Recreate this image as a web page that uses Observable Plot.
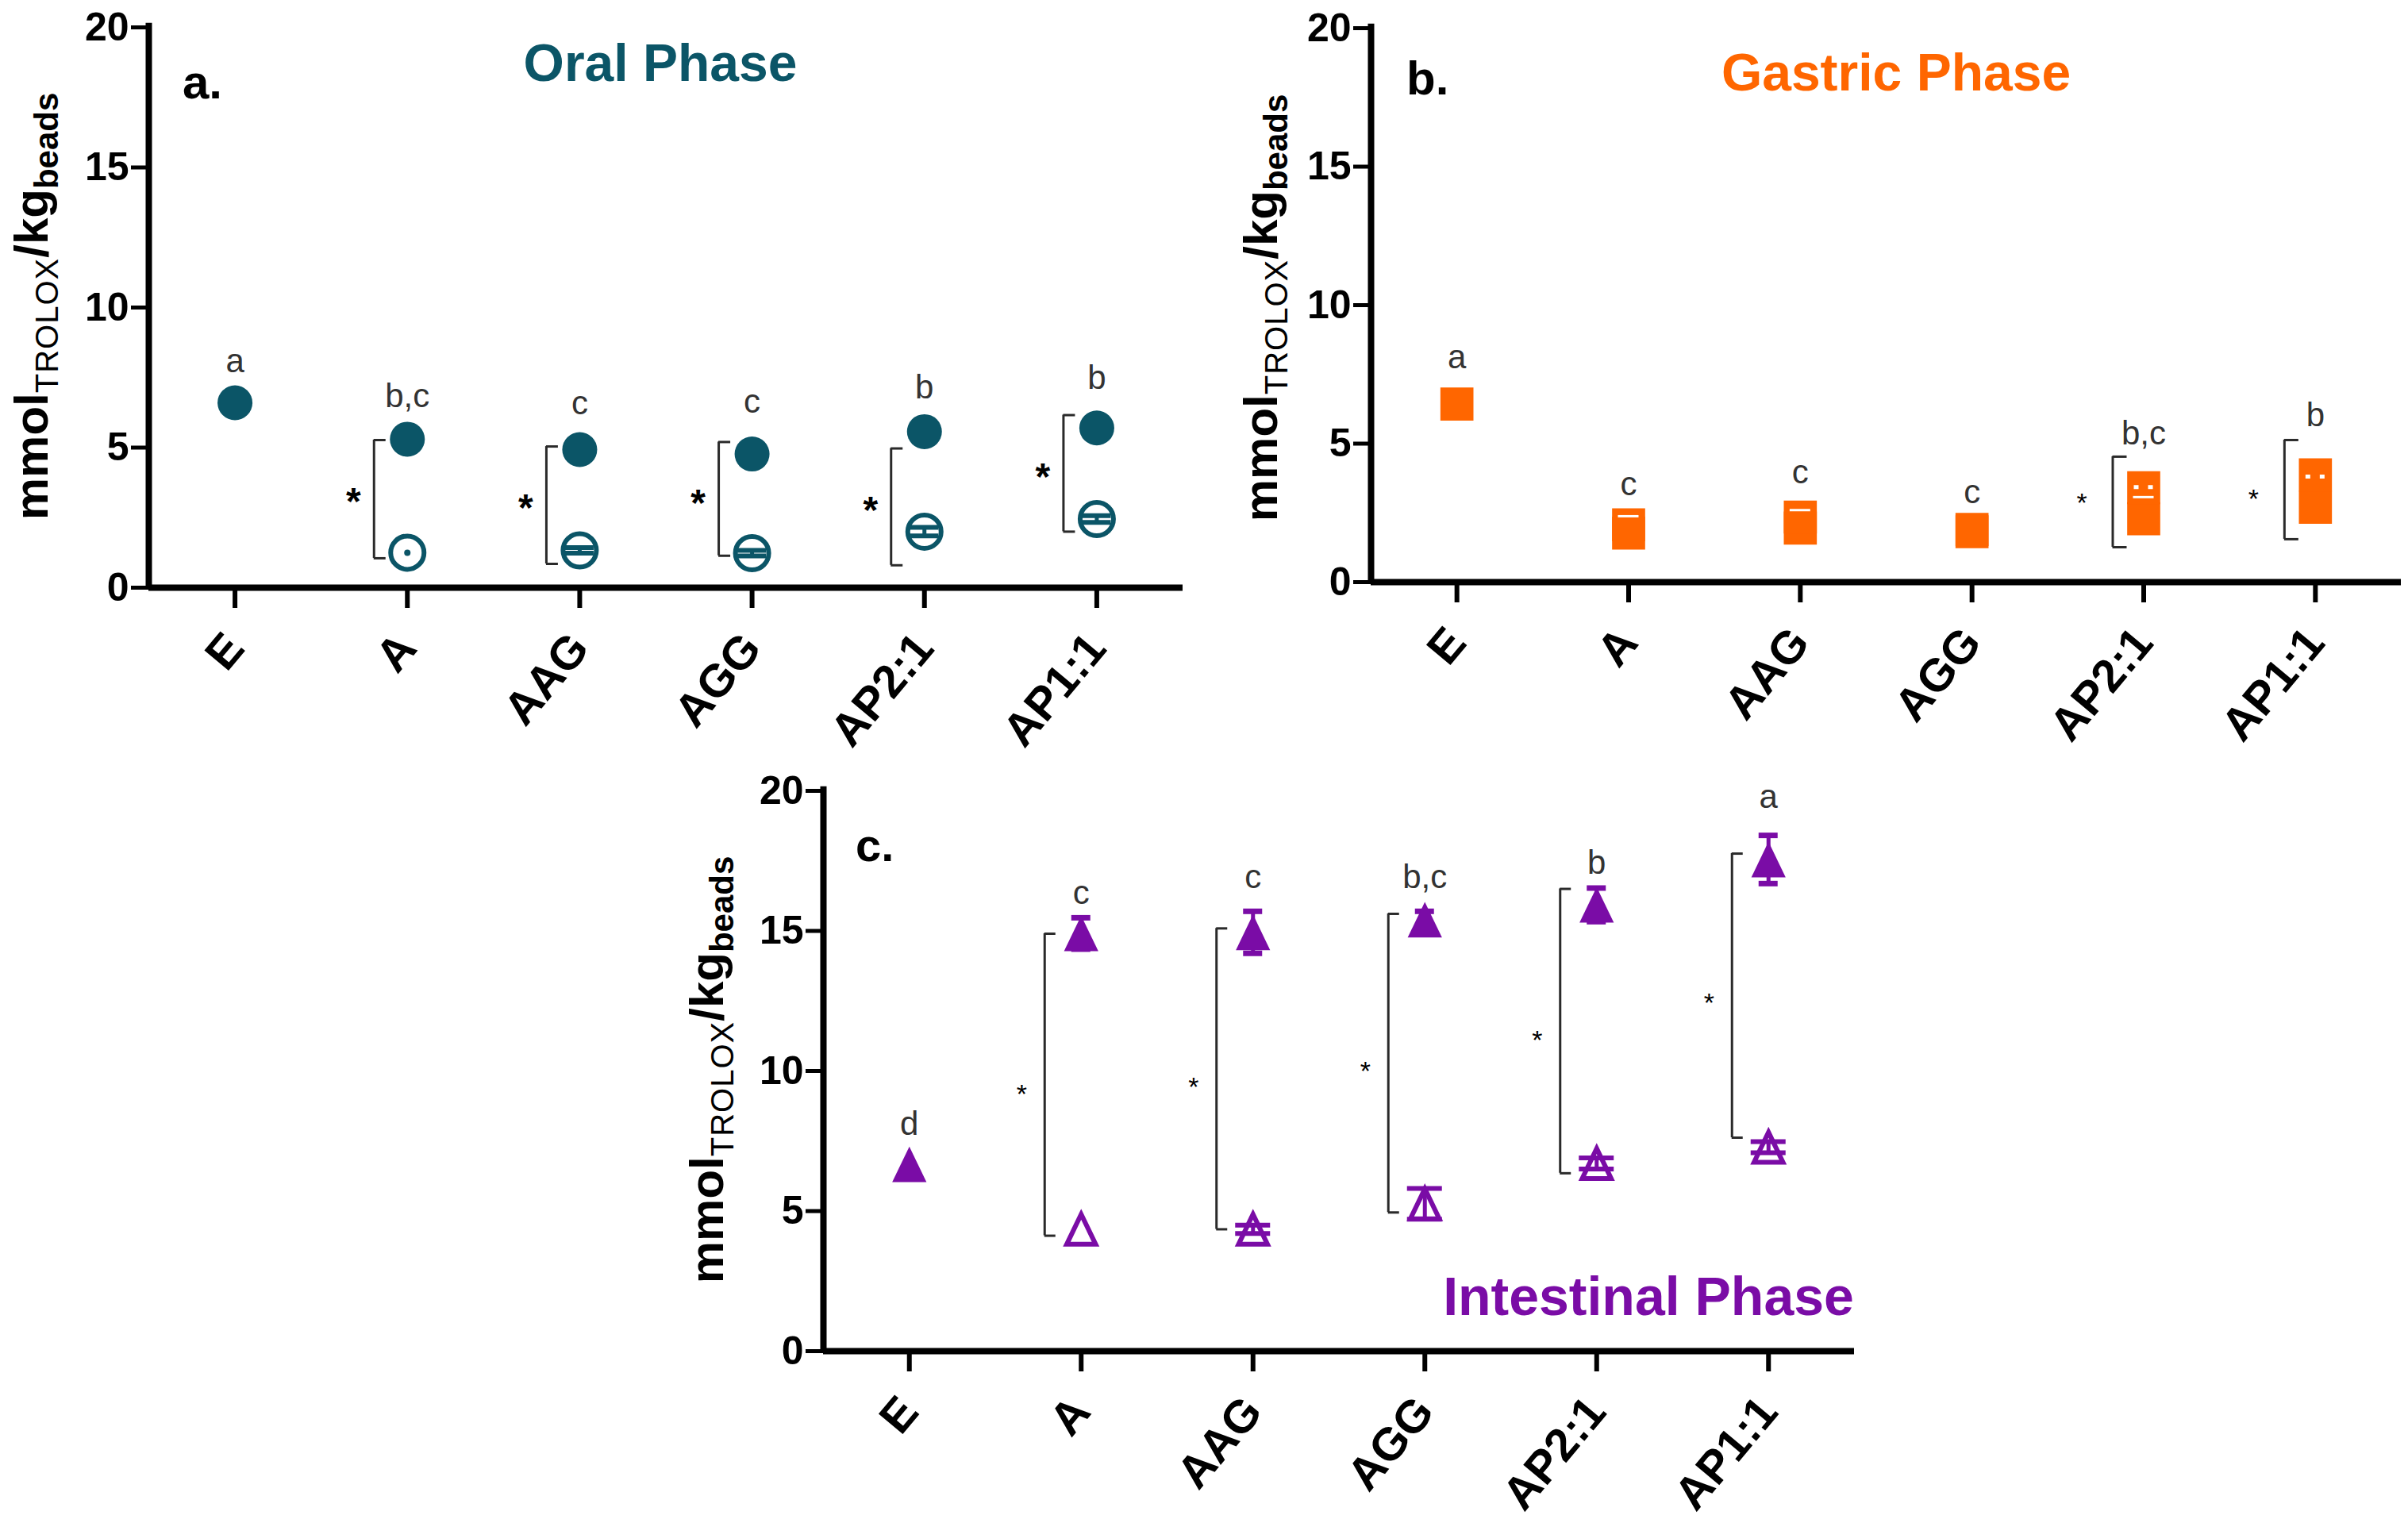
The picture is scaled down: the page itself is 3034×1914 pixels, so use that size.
<!DOCTYPE html>
<html><head><meta charset="utf-8">
<script src="https://cdn.jsdelivr.net/npm/d3@7"></script>
<script src="https://cdn.jsdelivr.net/npm/@observablehq/plot@0.6"></script>
<style>
body{margin:0;background:#fff;}
#root{position:relative;width:3034px;height:1914px;overflow:hidden;background:#fff;font-family:'Liberation Sans',Arial,sans-serif;}
.panel{position:absolute;}
.panel svg{overflow:visible;}
.ttl{position:absolute;font-weight:bold;white-space:nowrap;line-height:1;}
.ylab{position:absolute;white-space:nowrap;transform-origin:0 0;line-height:1;color:#000;}
.ylab .sub{position:relative;top:0.32em;}
</style></head><body><div id="root"></div>
<script>
// ---------- data ----------
const categories = ["E","A","AAG","AGG","AP2:1","AP1:1"];
const yTicks = [0,5,10,15,20];

// a. Oral phase (filled = one series, open = other series)
const oralFilled      = [6.6, 5.3, 4.93, 4.77, 5.57, 5.7];
const oralOpen        = [null, 1.25, 1.33, 1.23, 2.0, 2.45];
const oralOpenErr     = [null, 0, 0.1, 0.1, 0.15, 0.12];
const oralBracketLow  = [null, 1.05, 0.85, 1.14, 0.8, 2.0];
const oralBracketHigh = [null, 5.27, 5.04, 5.2, 4.97, 6.16];
const oralStar        = [null, 3.4, 3.17, 3.35, 3.1, 4.29];
const oralLetters     = ["a","b,c","c","c","b","b"];
const oralLetterY     = [7.69, 6.44, 6.2, 6.25, 6.76, 7.1];

// b. Gastric phase
const gastricFilled      = [6.43, 2.07, 2.35, 1.9, 3.41, 3.87];
const gastricOpen        = [null, 1.77, 1.95, 1.82, 2.29, 2.7];
const gastricCap         = [null, 2.38, 2.6, null, 3.07, null];
const gastricCapDots     = [null, null, null, null, 3.43, 3.81];
const gastricBracketLow  = [null, null, null, null, 1.26, 1.55];
const gastricBracketHigh = [null, null, null, null, 4.53, 5.13];
const gastricStar        = [null, null, null, null, 3.09, 3.24];
const gastricLetters     = ["a","c","c","c","b,c","b"];
const gastricLetterY     = [7.72, 3.15, 3.58, 2.86, 4.96, 5.62];

// c. Intestinal phase
const intFilled      = [6.67, 14.91, 14.95, 15.4, 15.93, 17.55];
const intFilledErr   = [0, 0.56, 0.75, 0.3, 0.6, 0.86];
const intOpen        = [null, 4.35, 4.35, 5.26, 6.7, 7.28];
const intOpenErr     = [null, null, 0.15, 0.55, 0.2, 0.2];
const intBracketLow  = [null, 4.12, 4.35, 4.95, 6.35, 7.62];
const intBracketHigh = [null, 14.9, 15.09, 15.61, 16.5, 17.76];
const intStar        = [null, 9.4, 9.65, 10.23, 11.33, 12.66];
const intLetters     = ["d","c","c","b,c","b","a"];
const intLetterY     = [7.72, 15.96, 16.54, 16.54, 17.05, 19.4];

// ---------- styles ----------
const TEAL = "#0b5567", ORANGE = "#ff6600", PURPLE = "#7a0ca6";
const FONT = "'Liberation Sans', Arial, sans-serif";

const triangle = {
  draw(ctx, size) {
    const r = Math.sqrt(size / Math.PI);
    const w = 1.35 * r, h = 1.4 * r;
    ctx.moveTo(0, -h); ctx.lineTo(w, h); ctx.lineTo(-w, h); ctx.closePath();
  }
};

function rowsOf(cfg) {
  return categories.map((c, i) => ({
    i, c,
    f: cfg.filled[i], fe: cfg.filledErr ? cfg.filledErr[i] : null,
    o: cfg.open[i], oe: cfg.openErr ? cfg.openErr[i] : null,
    lo: cfg.bLow[i], hi: cfg.bHigh[i], star: cfg.star[i],
    lt: cfg.letters[i], ly: cfg.letterY[i],
    cap: cfg.cap ? cfg.cap[i] : null, dots: cfg.dots ? cfg.dots[i] : null
  }));
}

function panel(cfg) {
  const rows = rowsOf(cfg);
  const plotW = cfg.width - cfg.ml - cfg.mr;
  const step = plotW / 6;
  const u = px => px / step;             // pixels -> x data units
  const bo = u(cfg.bracketOffset), sl = u(cfg.serif), so = u(cfg.starOffset);
  const pairs = rows.filter(d => d.lo != null);
  const openRows = rows.filter(d => d.o != null);
  const openErrRows = openRows.filter(d => d.oe != null && d.oe > 0);
  const openZero = openRows.filter(d => d.oe === 0);
  const filledErrRows = rows.filter(d => d.fe != null && d.fe > 0);
  const marks = [
    // axes
    Plot.ruleY([0], {stroke: "#000", strokeWidth: 8}),
    Plot.ruleX([-0.5], {y1: 0, y2: 20.15, stroke: "#000", strokeWidth: 8}),
    Plot.axisY({ticks: yTicks, tickSize: 22, tickPadding: 3, strokeWidth: 5,
      fontSize: 50, fontWeight: "bold", fill: "#000", label: null}),
    Plot.axisX({ticks: [0,1,2,3,4,5], tickFormat: i => categories[i],
      tickSize: 26, tickPadding: 40, tickRotate: -50, strokeWidth: 6,
      textAnchor: "end", lineAnchor: "middle",
      fontSize: 58, fontWeight: "bold", fill: "#000", label: null}),
    // brackets
    Plot.ruleX(pairs, {x: d => d.i - bo, y1: "lo", y2: "hi", stroke: "#2a2a2a", strokeWidth: 3}),
    Plot.ruleY(pairs, {y: "lo", x1: d => d.i - bo, x2: d => d.i - bo + sl, stroke: "#2a2a2a", strokeWidth: 3}),
    Plot.ruleY(pairs, {y: "hi", x1: d => d.i - bo, x2: d => d.i - bo + sl, stroke: "#2a2a2a", strokeWidth: 3}),
    Plot.text(pairs, {x: d => d.i - so, y: "star", text: () => "*", fontSize: cfg.starSize,
      fontWeight: cfg.starBold ? "bold" : "normal", lineAnchor: "bottom", dy: 0.575 * cfg.starSize, fill: "#000"}),
    // letters
    Plot.text(rows, {x: "i", y: "ly", text: "lt", fontSize: 42, lineAnchor: "bottom", fill: "#333"}),
  ];
  // second series (open / lower)
  if (cfg.openFilled) {
    marks.push(Plot.dot(openRows, {x: "i", y: "o", r: cfg.r, symbol: cfg.symbol, fill: cfg.color, stroke: "none"}));
  } else {
    marks.push(Plot.dot(openRows, {x: "i", y: "o", r: cfg.rOpen, symbol: cfg.symbol, fill: "white", stroke: cfg.color, strokeWidth: 6}));
  }
  const oc = u(cfg.openCap);
  marks.push(
    Plot.ruleX(openErrRows, {x: "i", y1: d => d.o - d.oe, y2: d => d.o + d.oe, stroke: cfg.color, strokeWidth: 5}),
    Plot.ruleY(openErrRows, {y: d => d.o + d.oe, x1: d => d.i - oc, x2: d => d.i + oc, stroke: cfg.color, strokeWidth: 6}),
    Plot.ruleY(openErrRows, {y: d => d.o - d.oe, x1: d => d.i - oc, x2: d => d.i + oc, stroke: cfg.color, strokeWidth: 6}),
    Plot.dot(openZero, {x: "i", y: "o", r: 4, fill: cfg.color})
  );
  // filled series with error bars
  const fc = u(12);
  marks.push(
    Plot.ruleX(filledErrRows, {x: "i", y1: d => d.f - d.fe, y2: d => d.f + d.fe, stroke: cfg.color, strokeWidth: 5}),
    Plot.ruleY(filledErrRows, {y: d => d.f + d.fe, x1: d => d.i - fc, x2: d => d.i + fc, stroke: cfg.color, strokeWidth: 7}),
    Plot.ruleY(filledErrRows, {y: d => d.f - d.fe, x1: d => d.i - fc, x2: d => d.i + fc, stroke: cfg.color, strokeWidth: 7}),
    Plot.dot(rows, {x: "i", y: "f", r: cfg.r, symbol: cfg.symbol, fill: cfg.color, stroke: "none"})
  );
  // white error caps visible inside filled squares
  if (cfg.cap) {
    const wc = u(13), wd = u(12);
    marks.push(
      Plot.ruleY(rows.filter(d => d.cap != null), {y: "cap", x1: d => d.i - wc, x2: d => d.i + wc, stroke: "white", strokeWidth: 3}),
      Plot.ruleY(rows.filter(d => d.dots != null), {y: "dots", x1: d => d.i - wd, x2: d => d.i + wd, stroke: "white", strokeWidth: 5, strokeDasharray: "6,12"})
    );
  }
  return Plot.plot({
    width: cfg.width, height: cfg.height,
    marginLeft: cfg.ml, marginRight: cfg.mr, marginTop: cfg.mt, marginBottom: cfg.mb,
    style: {background: "transparent", fontFamily: FONT, color: "#000", overflow: "visible"},
    x: {domain: [-0.5, 5.5], axis: null},
    y: {domain: [0, 20], axis: null},
    marks
  });
}

const root = document.getElementById("root");
function place(node, left, top) {
  const d = document.createElement("div");
  d.className = "panel"; d.style.left = left + "px"; d.style.top = top + "px";
  d.appendChild(node); root.appendChild(d);
}
function title(text, cx, baseline, size, color, anchor) {
  const d = document.createElement("div");
  d.className = "ttl"; d.textContent = text;
  d.style.fontSize = size + "px"; d.style.color = color;
  d.style.top = (baseline - 0.85 * size) + "px";
  if (anchor === "middle") { d.style.left = cx + "px"; d.style.transform = "translateX(-50%)"; }
  else d.style.left = cx + "px";
  root.appendChild(d);
}
function ylabel(baselineX, cy) {
  const d = document.createElement("div");
  d.className = "ylab";
  d.innerHTML = '<span style="font-size:60px;font-weight:bold">mmol</span>' +
    '<span class="sub" style="font-size:40px;letter-spacing:1px">TROLOX</span>' +
    '<span style="font-size:60px;font-weight:bold">/kg</span>' +
    '<span class="sub" style="font-size:42px;font-weight:bold">beads</span>';
  d.style.fontSize = "60px";
  d.style.left = (baselineX - 0.85 * 60) + "px";
  d.style.top = cy + "px";
  d.style.transform = "rotate(-90deg) translateX(-50%)";
  root.appendChild(d);
}

place(panel({width: 1520, height: 960, ml: 187, mr: 30, mt: 34, mb: 220,
  filled: oralFilled, open: oralOpen, openErr: oralOpenErr,
  bLow: oralBracketLow, bHigh: oralBracketHigh, star: oralStar,
  letters: oralLetters, letterY: oralLetterY,
  color: TEAL, symbol: "circle", r: 22, rOpen: 21, openCap: 18,
  bracketOffset: 42, serif: 15, starOffset: 68, starSize: 48, starBold: true}), 0, 0);

place(panel({width: 1514, height: 960, ml: 207, mr: 9, mt: 35, mb: 227,
  filled: gastricFilled, open: gastricOpen, openFilled: true,
  cap: gastricCap, dots: gastricCapDots,
  bLow: gastricBracketLow, bHigh: gastricBracketHigh, star: gastricStar,
  letters: gastricLetters, letterY: gastricLetterY,
  color: ORANGE, symbol: "square", r: 23.5, rOpen: 22, openCap: 14,
  bracketOffset: 39, serif: 18, starOffset: 78, starSize: 34, starBold: false}), 1520, 0);

place(panel({width: 1520, height: 954, ml: 197, mr: 24, mt: 36, mb: 212,
  filled: intFilled, filledErr: intFilledErr, open: intOpen, openErr: intOpenErr,
  bLow: intBracketLow, bHigh: intBracketHigh, star: intStar,
  letters: intLetters, letterY: intLetterY,
  color: PURPLE, symbol: triangle, r: 16, rOpen: 13.5, openCap: 22,
  bracketOffset: 46, serif: 14, starOffset: 75, starSize: 34, starBold: false}), 840, 960);

title("a.", 230, 125, 60, "#000");
title("Oral Phase", 832, 102, 66, TEAL, "middle");
title("b.", 1772, 120, 60, "#000");
title("Gastric Phase", 2389, 114, 66, ORANGE, "middle");
title("c.", 1078, 1085, 58, "#000");
title("Intestinal Phase", 2077, 1657, 68, PURPLE, "middle");

ylabel(61, 386);
ylabel(1610, 388);
ylabel(912, 1348);
</script></body></html>
